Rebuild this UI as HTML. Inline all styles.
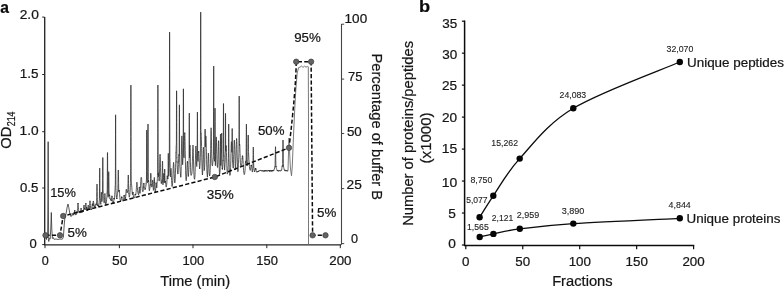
<!DOCTYPE html>
<html lang="en"><head><meta charset="utf-8"><title>Figure</title>
<style>
html,body{margin:0;padding:0;background:#fff;}
body{width:784px;height:290px;overflow:hidden;}
svg{display:block;font-family:'Liberation Sans', sans-serif;}
</style></head><body>
<svg width="784" height="290" viewBox="0 0 784 290">
<rect width="784" height="290" fill="#ffffff"/>
<text transform="translate(0.80,13.10) scale(0.9491,1)" x="-0.49" y="0" font-size="16.5" font-weight="bold" fill="#0a0a0a" stroke="#0a0a0a" stroke-width="0.22">a</text>
<text transform="translate(420.20,11.70) scale(1.1041,1)" x="-1.07" y="0" font-size="16.5" font-weight="bold" fill="#0a0a0a" stroke="#0a0a0a" stroke-width="0.22">b</text>
<path d="M44.7 17.1 V244.8 H341" fill="none" stroke="#262626" stroke-width="1.35"/>
<path d="M42.2 17.1 H44.6" stroke="#262626" stroke-width="1"/>
<path d="M42.2 74.5 H44.6" stroke="#262626" stroke-width="1"/>
<path d="M42.2 131.7 H44.6" stroke="#262626" stroke-width="1"/>
<path d="M42.2 188.0 H44.6" stroke="#262626" stroke-width="1"/>
<path d="M42.2 244.6 H44.6" stroke="#262626" stroke-width="1"/>
<text transform="translate(20.40,18.60) scale(1.0592,1)" x="-0.65" y="0" font-size="13" fill="#161616" stroke="#161616" stroke-width="0.22">2.0</text>
<text transform="translate(20.80,78.00) scale(1.0377,1)" x="-0.97" y="0" font-size="13" fill="#161616" stroke="#161616" stroke-width="0.22">1.5</text>
<text transform="translate(20.60,135.20) scale(1.0558,1)" x="-0.97" y="0" font-size="13" fill="#161616" stroke="#161616" stroke-width="0.22">1.0</text>
<text transform="translate(20.50,191.50) scale(1.0159,1)" x="-0.52" y="0" font-size="13" fill="#161616" stroke="#161616" stroke-width="0.22">0.5</text>
<text transform="translate(30.00,248.00) scale(1.0040,1)" x="-0.52" y="0" font-size="13" fill="#161616" stroke="#161616" stroke-width="0.22">0</text>
<path d="M45.0 244.6 V248.2" stroke="#262626" stroke-width="1"/>
<text transform="translate(42.30,265.00) scale(0.9717,1)" x="-0.52" y="0" font-size="13" fill="#161616" stroke="#161616" stroke-width="0.22">0</text>
<path d="M119.4 244.6 V248.2" stroke="#262626" stroke-width="1"/>
<text transform="translate(112.60,265.00) scale(1.0680,1)" x="-0.52" y="0" font-size="13" fill="#161616" stroke="#161616" stroke-width="0.22">50</text>
<path d="M193.0 244.6 V248.2" stroke="#262626" stroke-width="1"/>
<text transform="translate(183.40,265.00) scale(1.0025,1)" x="-0.97" y="0" font-size="13" fill="#161616" stroke="#161616" stroke-width="0.22">100</text>
<path d="M266.8 244.6 V248.2" stroke="#262626" stroke-width="1"/>
<text transform="translate(257.30,265.00) scale(0.9975,1)" x="-0.97" y="0" font-size="13" fill="#161616" stroke="#161616" stroke-width="0.22">150</text>
<path d="M340.3 244.6 V248.2" stroke="#262626" stroke-width="1"/>
<text transform="translate(329.90,265.00) scale(1.0256,1)" x="-0.65" y="0" font-size="13" fill="#161616" stroke="#161616" stroke-width="0.22">200</text>
<text transform="translate(160.70,286.40) scale(1.0522,1)" x="-0.35" y="0" font-size="14" fill="#161616" stroke="#161616" stroke-width="0.22">Time (min)</text>
<text transform="translate(11.10,148.00) rotate(-90) scale(1.0174,1)" x="-0.65" y="0" font-size="14.5" fill="#161616" stroke="#161616" stroke-width="0.22">OD</text>
<text transform="translate(15.30,125.90) rotate(-90) scale(0.7999,1)" x="-0.56" y="0" font-size="11.2" fill="#161616" stroke="#161616" stroke-width="0.22">214</text>
<path d="M341.5 24 V244.8" fill="none" stroke="#444" stroke-width="1.1"/>
<path d="M341.5 24.2 H344.2" stroke="#444" stroke-width="1"/>
<path d="M341.5 79.1 H344.2" stroke="#444" stroke-width="1"/>
<path d="M341.5 133.5 H344.2" stroke="#444" stroke-width="1"/>
<path d="M341.5 188.6 H344.2" stroke="#444" stroke-width="1"/>
<path d="M341.5 243.6 H344.2" stroke="#444" stroke-width="1"/>
<text transform="translate(345.60,23.30) scale(1.0422,1)" x="-0.97" y="0" font-size="13" fill="#161616" stroke="#161616" stroke-width="0.22">100</text>
<text transform="translate(348.60,80.80) scale(0.9955,1)" x="-0.65" y="0" font-size="13" fill="#161616" stroke="#161616" stroke-width="0.22">75</text>
<text transform="translate(347.40,135.80) scale(1.0306,1)" x="-0.52" y="0" font-size="13" fill="#161616" stroke="#161616" stroke-width="0.22">50</text>
<text transform="translate(347.20,189.20) scale(1.0558,1)" x="-0.65" y="0" font-size="13" fill="#161616" stroke="#161616" stroke-width="0.22">25</text>
<text transform="translate(351.40,243.10) scale(0.9717,1)" x="-0.52" y="0" font-size="13" fill="#161616" stroke="#161616" stroke-width="0.22">0</text>
<text transform="translate(372.00,54.70) rotate(90) scale(0.9795,1)" x="-1.20" y="0" font-size="15" fill="#161616" stroke="#161616" stroke-width="0.22">Percentage of buffer B</text>
<path d="M45.30 235.6 L46.00 236.5 L46.60 239.5 L47.00 236.0 L47.60 238.0 L47.95 200.0 L48.15 141.7 L48.35 205.0 L48.70 241.5 L49.40 238.5 L50.20 239.0 L50.80 228.0 L51.30 212.5 L51.80 229.0 L52.40 238.5 L53.20 237.5 L54.00 239.3 L56.00 239.0 L58.00 239.4 L60.00 239.0 L62.30 239.2 L63.40 237.0 L64.20 225.0 L65.00 216.8 L66.00 214.0 L67.20 207.0 L68.00 204.0 L68.80 207.5 L69.80 213.5 L70.60 215.8 L71.00 216.5 L71.20 215.6 L71.40 215.9 L71.60 216.1 L71.80 215.8 L72.00 215.9 L72.20 215.2 L72.40 214.8 L72.55 214.5 L72.60 214.2 L72.70 214.4 L72.80 214.0 L72.85 213.9 L72.90 213.3 L72.95 213.3 L73.00 213.3 L73.05 213.9 L73.10 214.1 L73.15 214.1 L73.20 213.4 L73.30 213.7 L73.40 214.9 L73.45 214.5 L73.60 215.2 L73.80 214.9 L74.00 214.6 L74.12 214.2 L74.20 213.7 L74.27 213.4 L74.40 211.8 L74.42 212.4 L74.52 211.8 L74.57 210.8 L74.60 210.9 L74.62 211.1 L74.67 210.6 L74.72 210.3 L74.77 210.3 L74.80 210.7 L74.82 210.3 L74.87 211.4 L74.92 211.5 L75.00 212.0 L75.02 212.3 L75.17 213.1 L75.20 213.1 L75.32 213.9 L75.40 214.1 L75.60 214.9 L75.80 214.8 L76.00 214.2 L76.20 214.6 L76.40 214.2 L76.59 213.7 L76.60 213.7 L76.74 212.9 L76.80 213.2 L76.89 212.8 L76.99 212.3 L77.00 212.4 L77.04 212.3 L77.09 211.8 L77.14 212.0 L77.19 211.3 L77.20 211.5 L77.24 211.6 L77.29 211.0 L77.34 210.8 L77.39 210.5 L77.40 210.3 L77.49 208.7 L77.55 208.4 L77.60 207.3 L77.64 206.4 L77.70 205.8 L77.79 204.4 L77.80 204.3 L77.85 203.6 L77.90 203.8 L77.95 203.3 L78.00 203.0 L78.05 203.3 L78.10 203.7 L78.15 203.3 L78.20 204.3 L78.30 205.8 L78.40 206.9 L78.45 207.8 L78.60 209.7 L78.76 211.5 L78.80 211.9 L78.91 212.2 L79.00 212.2 L79.06 212.7 L79.16 212.0 L79.20 211.8 L79.21 212.2 L79.26 211.7 L79.31 212.1 L79.36 211.7 L79.40 211.9 L79.41 211.2 L79.46 211.7 L79.51 212.0 L79.56 211.4 L79.60 212.4 L79.66 211.8 L79.80 212.6 L79.81 212.3 L79.96 212.9 L80.00 213.1 L80.20 212.6 L80.40 213.0 L80.47 212.2 L80.60 211.5 L80.62 211.4 L80.77 210.0 L80.80 209.7 L80.87 209.6 L80.92 209.2 L80.97 208.7 L81.00 209.0 L81.02 208.5 L81.07 208.2 L81.12 208.5 L81.17 208.4 L81.20 208.6 L81.22 209.3 L81.27 209.3 L81.37 210.5 L81.40 210.5 L81.52 210.7 L81.60 212.1 L81.67 212.4 L81.80 211.9 L81.95 212.7 L82.00 212.1 L82.10 211.9 L82.20 212.0 L82.25 211.1 L82.35 211.0 L82.40 211.3 L82.45 211.0 L82.50 210.6 L82.55 211.1 L82.60 211.0 L82.65 210.8 L82.70 210.4 L82.75 211.0 L82.80 211.0 L82.85 210.9 L83.00 211.2 L83.15 211.9 L83.20 211.3 L83.40 210.5 L83.55 209.2 L83.60 208.4 L83.70 207.0 L83.80 206.1 L83.85 205.5 L83.90 205.5 L83.95 205.3 L84.00 205.0 L84.05 205.3 L84.08 205.3 L84.10 205.3 L84.15 205.3 L84.20 206.1 L84.23 206.3 L84.30 206.9 L84.38 207.5 L84.40 207.7 L84.45 208.6 L84.48 208.8 L84.53 208.8 L84.58 208.9 L84.60 209.0 L84.63 208.4 L84.68 208.5 L84.73 209.3 L84.78 209.3 L84.80 209.3 L84.83 208.5 L84.88 208.6 L84.98 209.1 L85.00 209.3 L85.13 209.9 L85.20 209.1 L85.28 208.7 L85.35 207.4 L85.40 206.7 L85.50 205.8 L85.60 204.3 L85.65 203.9 L85.70 203.3 L85.75 203.3 L85.80 203.0 L85.85 203.3 L85.90 203.5 L85.95 204.0 L86.00 203.7 L86.06 204.5 L86.10 205.7 L86.20 206.9 L86.21 207.2 L86.25 207.1 L86.36 208.5 L86.40 208.1 L86.46 208.3 L86.51 207.6 L86.56 207.6 L86.60 207.9 L86.61 207.2 L86.66 207.4 L86.71 207.7 L86.76 208.0 L86.80 207.7 L86.81 207.7 L86.86 207.7 L86.96 209.2 L87.00 208.6 L87.11 209.4 L87.20 210.3 L87.26 210.5 L87.40 211.0 L87.60 210.0 L87.64 210.3 L87.79 208.5 L87.80 208.5 L87.94 207.6 L88.00 206.4 L88.04 206.2 L88.09 206.2 L88.14 205.9 L88.19 205.3 L88.20 205.1 L88.24 205.3 L88.29 205.7 L88.34 205.5 L88.39 205.5 L88.40 206.2 L88.44 206.4 L88.54 207.6 L88.60 208.2 L88.69 209.0 L88.80 209.4 L88.84 210.0 L89.00 210.0 L89.20 209.6 L89.27 209.2 L89.40 208.5 L89.42 208.2 L89.55 205.6 L89.57 205.4 L89.60 204.8 L89.67 203.6 L89.70 203.1 L89.72 202.7 L89.77 201.7 L89.80 201.6 L89.82 201.6 L89.85 201.1 L89.87 201.1 L89.90 201.1 L89.92 201.1 L89.95 201.1 L89.97 201.1 L90.00 200.8 L90.02 201.1 L90.05 201.1 L90.07 201.1 L90.10 201.1 L90.15 201.6 L90.17 201.5 L90.20 202.1 L90.30 202.9 L90.32 203.7 L90.40 205.4 L90.45 205.5 L90.47 205.8 L90.60 208.1 L90.80 209.8 L91.00 209.4 L91.20 210.0 L91.40 209.4 L91.60 209.7 L91.80 208.6 L91.81 208.1 L91.96 206.9 L92.00 207.0 L92.11 205.7 L92.20 205.1 L92.21 204.6 L92.26 204.2 L92.31 204.5 L92.36 204.0 L92.40 203.7 L92.41 203.8 L92.46 203.9 L92.51 204.0 L92.56 204.5 L92.60 204.2 L92.61 204.6 L92.70 205.1 L92.71 205.4 L92.80 206.0 L92.85 205.4 L92.86 205.4 L93.00 203.5 L93.01 203.0 L93.10 201.7 L93.15 201.3 L93.20 201.3 L93.25 201.3 L93.30 201.0 L93.33 201.3 L93.35 201.3 L93.40 201.3 L93.45 201.3 L93.48 201.3 L93.50 201.3 L93.60 202.3 L93.63 202.5 L93.73 204.5 L93.75 203.8 L93.78 204.4 L93.80 204.4 L93.83 205.3 L93.88 205.8 L93.90 205.4 L93.93 205.5 L93.98 205.9 L94.00 206.0 L94.03 206.4 L94.08 205.6 L94.13 205.7 L94.20 205.9 L94.23 206.0 L94.38 206.4 L94.40 206.9 L94.53 206.9 L94.60 206.6 L94.80 206.6 L95.00 206.6 L95.20 206.3 L95.40 206.7 L95.58 205.8 L95.60 206.0 L95.73 205.8 L95.80 205.1 L95.88 204.6 L95.98 204.9 L96.00 204.8 L96.03 204.2 L96.08 204.3 L96.13 204.6 L96.18 204.1 L96.20 203.9 L96.23 203.7 L96.28 204.5 L96.33 204.2 L96.38 203.5 L96.39 203.6 L96.40 203.6 L96.48 202.9 L96.54 203.2 L96.55 202.8 L96.60 201.8 L96.63 200.4 L96.69 197.8 L96.70 197.1 L96.78 192.4 L96.79 191.7 L96.80 190.9 L96.84 187.9 L96.85 187.3 L96.89 185.3 L96.90 184.8 L96.94 184.3 L96.95 184.3 L96.99 184.3 L97.00 184.0 L97.04 184.3 L97.05 184.3 L97.09 184.4 L97.10 185.4 L97.14 186.8 L97.15 188.2 L97.19 190.7 L97.20 191.4 L97.29 196.6 L97.30 197.4 L97.33 199.5 L97.40 202.2 L97.44 203.2 L97.45 203.3 L97.48 204.0 L97.59 204.3 L97.60 204.7 L97.63 204.3 L97.73 205.2 L97.78 205.1 L97.80 205.6 L97.83 204.9 L97.88 205.5 L97.93 204.9 L97.98 205.3 L98.00 205.3 L98.03 205.0 L98.08 205.9 L98.13 205.6 L98.20 205.9 L98.23 205.8 L98.38 206.7 L98.40 207.0 L98.53 207.0 L98.60 206.4 L98.80 205.7 L99.00 203.6 L99.01 203.8 L99.10 203.0 L99.16 202.9 L99.20 202.3 L99.23 201.8 L99.25 201.0 L99.31 200.5 L99.38 199.7 L99.40 198.9 L99.41 198.4 L99.46 193.0 L99.50 187.2 L99.51 186.7 L99.53 183.5 L99.55 179.9 L99.56 178.8 L99.60 172.9 L99.61 171.8 L99.63 169.7 L99.65 168.3 L99.66 168.3 L99.68 168.3 L99.70 168.0 L99.71 168.0 L99.73 168.3 L99.75 168.3 L99.76 168.6 L99.78 171.1 L99.80 173.1 L99.81 174.6 L99.83 177.0 L99.85 180.5 L99.88 184.2 L99.90 187.2 L99.91 188.5 L99.93 191.8 L99.98 197.4 L100.00 197.3 L100.03 198.0 L100.06 198.8 L100.13 199.3 L100.15 199.0 L100.20 199.6 L100.21 199.6 L100.28 200.1 L100.30 200.6 L100.40 201.1 L100.43 202.2 L100.60 203.1 L100.74 204.0 L100.80 204.4 L100.89 202.8 L101.00 199.9 L101.04 198.2 L101.14 195.0 L101.19 193.7 L101.20 193.1 L101.24 192.6 L101.29 192.2 L101.34 192.2 L101.39 192.2 L101.40 192.1 L101.44 192.6 L101.49 193.0 L101.54 194.5 L101.60 196.3 L101.64 197.8 L101.79 201.2 L101.80 201.7 L101.94 201.4 L102.00 201.2 L102.20 199.0 L102.35 196.9 L102.40 195.7 L102.46 195.2 L102.50 194.4 L102.60 180.6 L102.61 178.6 L102.65 171.1 L102.70 161.8 L102.75 157.8 L102.76 157.8 L102.80 157.5 L102.85 157.8 L102.86 157.8 L102.90 161.0 L102.91 163.3 L102.95 170.0 L102.96 171.5 L103.00 178.6 L103.01 180.4 L103.06 188.4 L103.10 192.1 L103.11 191.9 L103.16 193.4 L103.20 193.4 L103.21 193.7 L103.25 193.9 L103.26 194.9 L103.36 195.2 L103.40 196.5 L103.51 197.5 L103.60 198.5 L103.66 199.2 L103.80 200.2 L104.00 202.3 L104.20 203.1 L104.31 202.0 L104.40 200.7 L104.46 199.3 L104.60 197.5 L104.61 196.8 L104.71 195.7 L104.76 194.4 L104.80 194.4 L104.81 194.5 L104.86 193.6 L104.91 193.9 L104.96 193.7 L105.00 193.9 L105.01 194.2 L105.06 195.6 L105.11 196.3 L105.20 197.7 L105.21 197.6 L105.36 200.9 L105.40 201.7 L105.51 203.0 L105.60 204.1 L105.80 205.3 L106.00 204.1 L106.20 203.4 L106.40 202.2 L106.60 199.8 L106.78 197.8 L106.80 197.8 L106.81 197.2 L106.90 196.4 L106.93 195.7 L106.96 195.7 L107.00 194.9 L107.05 194.5 L107.08 193.5 L107.11 193.7 L107.18 191.8 L107.20 192.2 L107.21 191.6 L107.23 189.6 L107.26 185.1 L107.28 181.8 L107.30 178.2 L107.31 176.3 L107.33 172.4 L107.35 168.1 L107.36 166.6 L107.38 162.5 L107.40 159.0 L107.41 156.9 L107.43 154.0 L107.45 152.8 L107.46 152.8 L107.48 152.8 L107.50 152.5 L107.51 152.8 L107.53 152.8 L107.55 152.8 L107.56 152.8 L107.58 155.6 L107.60 159.0 L107.61 160.6 L107.65 168.1 L107.68 174.3 L107.70 177.7 L107.71 179.9 L107.80 192.3 L107.83 193.1 L107.86 194.0 L107.95 195.4 L107.98 195.7 L108.00 195.6 L108.01 196.3 L108.10 197.0 L108.14 197.0 L108.20 197.3 L108.25 196.9 L108.29 196.2 L108.40 188.8 L108.44 186.1 L108.50 180.7 L108.54 176.8 L108.55 176.1 L108.59 172.6 L108.60 172.3 L108.64 172.0 L108.65 172.0 L108.69 172.0 L108.70 171.7 L108.74 172.0 L108.75 172.0 L108.79 172.0 L108.80 172.0 L108.84 174.8 L108.85 174.7 L108.88 177.4 L108.89 178.3 L108.90 179.2 L108.94 182.5 L109.00 188.4 L109.03 190.5 L109.04 190.8 L109.15 194.6 L109.18 195.1 L109.19 194.6 L109.20 194.6 L109.28 195.8 L109.30 195.3 L109.33 195.6 L109.34 196.1 L109.38 196.1 L109.40 195.4 L109.43 195.0 L109.48 194.9 L109.53 195.6 L109.58 195.8 L109.60 195.2 L109.63 196.0 L109.68 195.9 L109.78 197.1 L109.80 197.0 L109.93 198.7 L110.00 199.0 L110.08 198.5 L110.20 199.2 L110.40 199.1 L110.60 200.1 L110.80 199.6 L111.00 200.0 L111.20 200.9 L111.37 200.3 L111.40 200.8 L111.52 200.1 L111.60 199.2 L111.67 197.8 L111.77 197.3 L111.80 197.2 L111.82 196.6 L111.87 195.8 L111.92 195.8 L111.97 195.9 L112.00 196.4 L112.02 196.0 L112.07 196.3 L112.12 196.9 L112.17 198.0 L112.20 198.5 L112.27 199.1 L112.40 201.2 L112.42 201.6 L112.57 202.6 L112.60 202.4 L112.80 203.1 L113.00 203.9 L113.20 203.6 L113.40 202.8 L113.53 202.7 L113.60 201.7 L113.68 202.0 L113.80 200.4 L113.83 200.2 L113.93 199.3 L113.98 198.5 L114.00 198.9 L114.03 198.4 L114.08 198.2 L114.13 198.6 L114.18 197.9 L114.20 198.1 L114.23 198.7 L114.28 198.3 L114.33 198.6 L114.40 199.3 L114.43 199.1 L114.58 198.1 L114.60 197.9 L114.73 194.9 L114.80 194.1 L114.88 192.9 L115.00 190.3 L115.03 190.3 L115.15 187.7 L115.18 186.9 L115.20 187.0 L115.28 185.6 L115.30 184.8 L115.33 184.2 L115.38 179.5 L115.40 173.3 L115.43 162.7 L115.45 155.2 L115.48 142.8 L115.50 134.6 L115.53 124.3 L115.55 117.9 L115.58 115.1 L115.60 114.8 L115.63 115.1 L115.65 118.0 L115.68 127.1 L115.70 134.8 L115.75 155.2 L115.78 166.7 L115.80 173.0 L115.90 187.8 L115.93 188.4 L116.00 190.4 L116.05 191.2 L116.08 191.3 L116.13 192.7 L116.20 194.0 L116.28 195.0 L116.40 196.8 L116.43 196.5 L116.53 197.4 L116.58 197.6 L116.60 198.2 L116.63 198.3 L116.68 198.6 L116.73 198.3 L116.78 198.7 L116.80 198.0 L116.83 198.7 L116.88 198.3 L116.93 198.3 L117.00 198.4 L117.03 197.6 L117.18 196.5 L117.20 196.5 L117.33 195.1 L117.40 194.8 L117.58 193.4 L117.60 193.2 L117.70 192.0 L117.73 192.0 L117.80 190.8 L117.85 190.9 L117.88 189.9 L117.98 184.8 L118.00 183.1 L118.03 181.1 L118.08 176.8 L118.10 175.0 L118.13 171.6 L118.15 170.3 L118.18 170.3 L118.20 170.3 L118.23 170.3 L118.25 170.3 L118.28 170.3 L118.30 170.0 L118.33 170.3 L118.35 170.3 L118.38 170.3 L118.40 170.3 L118.45 170.3 L118.48 172.3 L118.50 174.7 L118.60 182.6 L118.61 183.6 L118.63 185.0 L118.75 190.7 L118.76 190.5 L118.78 190.7 L118.80 191.8 L118.90 191.4 L118.91 191.3 L119.00 190.4 L119.01 190.4 L119.06 190.5 L119.11 190.1 L119.16 190.3 L119.20 190.9 L119.21 190.3 L119.26 190.5 L119.31 191.5 L119.36 191.5 L119.40 191.3 L119.41 191.8 L119.51 193.2 L119.60 193.8 L119.66 194.9 L119.80 197.0 L119.81 197.3 L120.00 198.9 L120.20 200.3 L120.40 200.5 L120.60 200.7 L120.80 201.0 L121.00 200.0 L121.11 199.9 L121.20 198.8 L121.26 198.6 L121.40 197.6 L121.41 198.0 L121.51 197.1 L121.56 196.9 L121.60 196.8 L121.61 197.1 L121.66 196.8 L121.71 196.9 L121.76 197.5 L121.80 197.2 L121.81 197.4 L121.86 196.9 L121.91 197.2 L122.00 197.3 L122.01 198.0 L122.16 198.5 L122.20 198.7 L122.31 199.0 L122.40 199.6 L122.60 200.3 L122.80 200.7 L123.00 201.2 L123.20 200.7 L123.40 199.6 L123.56 198.8 L123.60 198.3 L123.71 198.3 L123.80 197.1 L123.86 197.1 L123.96 196.5 L124.00 196.5 L124.01 195.5 L124.06 195.7 L124.11 195.6 L124.16 195.3 L124.20 196.1 L124.21 195.5 L124.26 196.1 L124.31 195.9 L124.36 195.7 L124.40 196.2 L124.46 196.4 L124.60 197.1 L124.61 197.3 L124.76 198.6 L124.80 198.2 L125.00 199.2 L125.20 199.5 L125.40 198.9 L125.60 197.0 L125.64 197.2 L125.79 194.8 L125.80 195.2 L125.94 193.1 L126.00 191.7 L126.04 191.3 L126.09 190.8 L126.14 190.7 L126.19 190.0 L126.20 189.9 L126.24 190.2 L126.29 189.3 L126.34 189.3 L126.39 189.4 L126.40 189.3 L126.44 189.3 L126.54 189.7 L126.60 190.7 L126.69 191.2 L126.80 192.1 L126.84 192.5 L127.00 192.3 L127.20 192.8 L127.40 192.4 L127.60 191.0 L127.70 191.0 L127.76 190.7 L127.77 190.9 L127.80 190.6 L127.85 189.6 L127.91 188.3 L127.92 187.3 L128.00 183.7 L128.06 180.0 L128.07 179.0 L128.10 177.4 L128.15 175.3 L128.16 175.3 L128.17 175.3 L128.20 175.3 L128.21 175.3 L128.22 175.3 L128.25 175.3 L128.26 175.3 L128.27 175.3 L128.30 175.0 L128.31 175.0 L128.32 175.3 L128.35 175.3 L128.36 175.3 L128.37 175.3 L128.40 175.3 L128.41 175.3 L128.42 175.3 L128.45 175.4 L128.46 176.1 L128.47 176.4 L128.50 178.9 L128.51 179.3 L128.52 180.4 L128.56 183.4 L128.57 183.9 L128.60 185.8 L128.66 189.2 L128.67 189.5 L128.75 192.3 L128.80 193.5 L128.81 193.3 L128.82 193.1 L128.90 194.4 L128.96 194.5 L128.97 194.9 L129.00 195.3 L129.20 197.2 L129.40 196.8 L129.60 196.1 L129.80 194.8 L130.00 192.3 L130.20 189.2 L130.23 188.8 L130.30 187.4 L130.38 186.1 L130.40 185.6 L130.44 185.5 L130.45 185.4 L130.53 183.4 L130.59 182.3 L130.60 181.1 L130.63 180.0 L130.68 168.1 L130.70 160.2 L130.73 146.6 L130.74 142.3 L130.75 136.3 L130.78 120.5 L130.80 110.1 L130.83 96.7 L130.84 92.4 L130.85 88.8 L130.88 85.3 L130.89 85.3 L130.90 85.0 L130.93 85.3 L130.94 86.6 L130.95 89.3 L130.98 100.9 L130.99 105.5 L131.00 110.6 L131.03 126.4 L131.04 131.1 L131.05 136.4 L131.09 156.3 L131.10 160.0 L131.13 171.5 L131.14 174.6 L131.19 179.0 L131.20 179.5 L131.24 180.3 L131.28 180.3 L131.34 181.5 L131.35 181.5 L131.40 182.2 L131.43 182.4 L131.49 183.0 L131.50 183.6 L131.60 184.8 L131.64 185.1 L131.80 187.5 L132.00 190.4 L132.20 192.7 L132.33 194.3 L132.40 194.4 L132.48 194.9 L132.60 194.6 L132.63 194.3 L132.73 193.8 L132.78 192.8 L132.80 193.0 L132.83 193.1 L132.88 192.6 L132.93 192.2 L132.98 193.0 L133.00 193.1 L133.03 192.4 L133.08 193.0 L133.13 193.7 L133.20 194.8 L133.23 194.7 L133.38 196.6 L133.40 196.3 L133.53 197.6 L133.60 197.4 L133.80 197.7 L134.00 198.1 L134.20 198.1 L134.40 197.8 L134.60 197.1 L134.63 196.9 L134.78 196.6 L134.80 196.5 L134.93 196.1 L135.00 195.7 L135.03 194.9 L135.08 195.0 L135.13 195.1 L135.18 194.5 L135.20 194.4 L135.23 194.1 L135.28 194.6 L135.33 194.8 L135.38 194.8 L135.40 194.0 L135.43 194.5 L135.53 194.1 L135.60 194.3 L135.68 194.0 L135.80 194.4 L135.83 194.4 L136.00 192.6 L136.20 191.4 L136.30 189.6 L136.40 188.0 L136.45 187.5 L136.60 185.5 L136.70 184.4 L136.75 183.0 L136.80 182.8 L136.85 182.2 L136.90 182.6 L136.95 182.5 L137.00 182.6 L137.05 182.9 L137.10 183.8 L137.20 185.0 L137.35 186.6 L137.40 187.5 L137.50 189.0 L137.60 190.4 L137.80 192.3 L138.00 192.9 L138.20 194.0 L138.40 194.5 L138.60 194.9 L138.80 193.5 L138.81 193.5 L138.96 191.8 L139.00 192.1 L139.11 189.8 L139.20 188.7 L139.21 188.2 L139.26 187.9 L139.31 187.1 L139.36 187.4 L139.40 186.9 L139.41 187.4 L139.46 187.2 L139.51 187.4 L139.56 188.2 L139.60 188.5 L139.61 188.5 L139.71 189.8 L139.80 191.2 L139.86 192.9 L140.00 193.3 L140.01 193.0 L140.20 191.2 L140.40 188.4 L140.60 185.2 L140.75 181.5 L140.80 181.2 L140.90 179.2 L141.00 177.8 L141.02 177.9 L141.05 177.8 L141.10 177.8 L141.15 177.8 L141.17 177.8 L141.20 177.5 L141.25 177.8 L141.30 177.8 L141.32 177.8 L141.35 177.8 L141.40 177.8 L141.42 177.8 L141.47 177.8 L141.50 177.8 L141.52 177.8 L141.57 178.2 L141.60 178.6 L141.62 178.9 L141.65 179.6 L141.67 180.3 L141.72 180.7 L141.77 181.8 L141.80 181.9 L141.82 182.4 L141.92 184.9 L142.00 185.3 L142.07 187.0 L142.20 189.0 L142.22 189.2 L142.40 190.7 L142.60 191.3 L142.80 191.8 L143.00 191.4 L143.20 190.0 L143.21 190.1 L143.36 187.6 L143.40 187.9 L143.51 185.9 L143.60 185.1 L143.61 184.5 L143.66 184.6 L143.71 183.3 L143.76 183.6 L143.80 183.1 L143.81 183.2 L143.86 183.2 L143.91 183.6 L143.96 184.0 L144.00 183.8 L144.01 184.1 L144.11 184.8 L144.20 185.6 L144.26 186.8 L144.40 187.4 L144.41 187.3 L144.60 188.5 L144.80 189.4 L145.00 189.0 L145.20 189.5 L145.40 188.9 L145.41 189.0 L145.56 187.9 L145.60 187.6 L145.71 186.9 L145.80 186.4 L145.81 186.4 L145.86 185.5 L145.91 185.6 L145.96 185.0 L146.00 184.5 L146.01 184.6 L146.06 184.5 L146.11 183.2 L146.15 183.5 L146.16 182.8 L146.20 182.8 L146.21 182.0 L146.30 182.0 L146.31 181.3 L146.35 181.4 L146.40 180.1 L146.45 179.4 L146.46 179.5 L146.50 178.0 L146.55 170.8 L146.60 157.8 L146.61 155.1 L146.65 142.7 L146.70 130.7 L146.75 130.0 L146.80 131.5 L146.85 142.6 L146.90 158.0 L146.95 171.1 L147.00 178.2 L147.05 178.9 L147.10 180.1 L147.20 181.4 L147.25 181.9 L147.30 182.2 L147.35 182.6 L147.40 182.9 L147.45 181.7 L147.55 180.8 L147.60 179.8 L147.70 177.7 L147.75 176.5 L147.80 169.0 L147.85 154.3 L147.90 137.9 L147.91 135.3 L147.95 125.3 L148.00 124.0 L148.05 124.6 L148.06 127.3 L148.10 138.0 L148.15 154.2 L148.20 168.7 L148.21 171.5 L148.30 179.5 L148.31 180.1 L148.35 181.6 L148.36 181.4 L148.40 180.8 L148.41 181.2 L148.45 181.3 L148.46 180.7 L148.50 181.2 L148.51 180.4 L148.56 181.5 L148.60 181.2 L148.61 181.0 L148.66 182.2 L148.71 182.6 L148.80 184.3 L148.81 184.3 L148.96 186.8 L149.00 187.1 L149.11 189.1 L149.20 189.0 L149.40 190.7 L149.60 189.9 L149.69 188.9 L149.80 188.6 L149.84 188.0 L149.99 186.9 L150.00 187.1 L150.09 185.8 L150.14 185.6 L150.19 185.6 L150.20 185.0 L150.21 185.4 L150.24 185.5 L150.29 184.9 L150.34 184.4 L150.35 184.9 L150.36 184.8 L150.39 184.1 L150.40 183.5 L150.44 182.3 L150.49 179.9 L150.50 178.8 L150.51 178.4 L150.59 173.7 L150.60 173.6 L150.61 173.6 L150.65 173.6 L150.66 173.6 L150.70 173.6 L150.71 173.6 L150.74 173.6 L150.75 173.6 L150.76 173.6 L150.80 173.3 L150.81 173.3 L150.85 173.6 L150.86 173.6 L150.89 173.6 L150.90 173.6 L150.91 173.6 L150.95 173.6 L150.96 173.6 L151.00 173.6 L151.01 173.6 L151.10 178.4 L151.11 178.9 L151.20 182.9 L151.25 183.4 L151.26 183.9 L151.40 185.0 L151.41 184.6 L151.60 185.6 L151.80 187.1 L152.00 187.0 L152.11 186.1 L152.20 185.2 L152.26 185.3 L152.40 182.9 L152.41 182.5 L152.51 181.0 L152.56 181.2 L152.60 180.6 L152.61 180.6 L152.66 180.0 L152.71 180.0 L152.76 180.3 L152.80 180.4 L152.81 181.0 L152.86 181.4 L152.91 182.6 L153.00 183.9 L153.01 184.2 L153.16 187.1 L153.20 188.2 L153.31 189.1 L153.40 190.4 L153.60 190.0 L153.71 189.3 L153.80 187.5 L153.86 186.8 L154.00 182.6 L154.01 182.9 L154.11 180.1 L154.16 178.8 L154.20 178.6 L154.21 177.9 L154.26 177.7 L154.31 177.4 L154.36 177.5 L154.40 177.5 L154.41 178.0 L154.46 178.7 L154.51 180.0 L154.60 182.9 L154.61 182.5 L154.76 187.0 L154.80 187.9 L154.91 189.5 L155.00 190.7 L155.20 191.5 L155.40 192.1 L155.60 190.2 L155.61 190.2 L155.76 188.3 L155.80 188.2 L155.91 186.4 L156.00 184.8 L156.01 184.6 L156.06 183.5 L156.11 183.8 L156.16 182.7 L156.20 182.9 L156.21 182.9 L156.26 183.3 L156.31 183.5 L156.36 183.6 L156.40 184.6 L156.41 184.8 L156.51 185.3 L156.60 187.2 L156.66 187.9 L156.80 187.7 L156.81 187.7 L157.00 184.9 L157.20 181.5 L157.21 181.2 L157.30 179.8 L157.36 178.5 L157.40 177.8 L157.45 176.2 L157.51 175.5 L157.60 173.0 L157.61 172.7 L157.66 169.2 L157.70 154.9 L157.71 151.3 L157.75 132.9 L157.76 128.3 L157.80 108.1 L157.81 104.3 L157.85 88.3 L157.86 85.7 L157.90 85.0 L157.91 85.0 L157.95 88.5 L157.96 91.0 L158.00 107.5 L158.01 112.7 L158.05 132.3 L158.10 154.4 L158.11 157.6 L158.16 172.1 L158.20 173.5 L158.26 174.9 L158.31 175.1 L158.35 175.9 L158.40 176.1 L158.41 176.7 L158.46 175.6 L158.50 174.7 L158.51 173.7 L158.56 173.3 L158.60 173.2 L158.61 173.1 L158.66 172.7 L158.71 173.8 L158.76 174.0 L158.80 174.9 L158.81 174.8 L158.91 177.4 L159.00 179.0 L159.06 180.0 L159.20 181.1 L159.21 180.7 L159.40 176.3 L159.45 174.1 L159.60 168.2 L159.75 161.3 L159.80 159.5 L159.85 158.0 L159.90 156.7 L159.95 155.5 L160.00 155.2 L160.05 154.2 L160.10 155.1 L160.15 155.0 L160.20 156.7 L160.25 157.6 L160.35 161.0 L160.40 163.2 L160.50 167.7 L160.60 171.9 L160.65 173.2 L160.80 177.4 L161.00 181.4 L161.20 183.6 L161.40 183.7 L161.54 183.5 L161.60 182.9 L161.69 183.0 L161.76 182.2 L161.80 182.1 L161.84 182.1 L161.90 182.5 L161.91 182.1 L161.94 182.2 L161.99 181.1 L162.00 181.4 L162.04 180.8 L162.05 180.9 L162.06 180.6 L162.09 181.2 L162.14 178.8 L162.16 177.8 L162.19 176.1 L162.20 175.6 L162.21 175.0 L162.24 172.4 L162.26 170.9 L162.29 168.9 L162.30 167.7 L162.31 166.8 L162.34 165.0 L162.35 163.9 L162.36 163.3 L162.40 161.3 L162.41 161.3 L162.44 161.3 L162.45 161.3 L162.46 161.3 L162.50 161.0 L162.51 161.0 L162.55 161.3 L162.56 161.3 L162.59 161.3 L162.60 161.7 L162.65 164.8 L162.66 165.4 L162.70 168.9 L162.74 172.1 L162.80 177.0 L162.81 177.4 L162.95 184.8 L162.96 184.7 L163.00 184.3 L163.10 183.3 L163.20 182.0 L163.25 179.9 L163.40 177.3 L163.50 175.8 L163.55 174.5 L163.60 174.2 L163.65 173.6 L163.70 173.4 L163.75 173.8 L163.80 174.1 L163.85 174.4 L163.90 175.2 L164.00 177.0 L164.08 178.9 L164.10 178.7 L164.15 179.7 L164.20 180.9 L164.23 181.5 L164.25 182.3 L164.30 182.7 L164.38 181.6 L164.40 180.2 L164.48 175.8 L164.50 175.1 L164.53 172.8 L164.55 172.7 L164.58 171.1 L164.60 169.8 L164.63 169.3 L164.65 169.3 L164.68 169.3 L164.70 169.0 L164.73 169.3 L164.75 169.3 L164.78 169.3 L164.80 170.0 L164.83 171.1 L164.85 172.5 L164.88 173.7 L164.90 174.2 L164.93 176.8 L164.98 179.3 L165.00 180.1 L165.08 182.3 L165.13 182.8 L165.15 182.4 L165.18 182.4 L165.20 182.6 L165.23 182.4 L165.28 181.3 L165.30 182.0 L165.33 181.5 L165.38 181.8 L165.40 181.4 L165.43 181.6 L165.48 181.7 L165.53 181.7 L165.58 182.2 L165.60 182.8 L165.68 182.9 L165.80 184.2 L165.83 185.3 L165.98 186.5 L166.00 186.5 L166.20 187.1 L166.40 186.7 L166.60 185.3 L166.72 184.4 L166.80 182.8 L166.87 182.1 L167.00 179.2 L167.02 179.1 L167.12 177.8 L167.17 177.5 L167.20 176.5 L167.22 177.1 L167.27 176.3 L167.32 175.7 L167.37 176.0 L167.40 176.0 L167.42 176.3 L167.47 176.7 L167.52 176.6 L167.60 177.4 L167.62 177.3 L167.70 178.5 L167.71 178.0 L167.77 179.1 L167.80 178.3 L167.85 178.4 L167.86 177.9 L167.92 177.5 L168.00 176.3 L168.01 176.3 L168.10 167.3 L168.11 165.9 L168.15 160.4 L168.16 159.3 L168.20 154.6 L168.21 153.6 L168.25 153.6 L168.26 153.6 L168.30 153.3 L168.31 153.3 L168.35 153.6 L168.36 153.6 L168.40 153.7 L168.41 155.4 L168.45 160.3 L168.46 161.3 L168.50 166.3 L168.51 168.3 L168.60 175.8 L168.61 176.3 L168.75 175.7 L168.76 175.8 L168.80 175.2 L168.90 174.1 L168.91 173.9 L169.00 172.1 L169.15 169.8 L169.20 168.6 L169.27 167.4 L169.30 165.7 L169.40 133.1 L169.42 121.5 L169.45 100.2 L169.50 64.7 L169.55 35.5 L169.57 32.3 L169.60 32.0 L169.65 34.7 L169.67 45.4 L169.70 64.1 L169.72 78.3 L169.75 99.3 L169.77 113.8 L169.80 131.8 L169.82 142.4 L169.87 157.6 L169.90 158.9 L169.92 159.1 L169.97 161.3 L170.00 162.0 L170.02 162.9 L170.05 163.8 L170.07 164.3 L170.17 167.7 L170.20 169.5 L170.32 174.0 L170.40 175.7 L170.47 176.8 L170.55 175.2 L170.60 173.7 L170.70 171.6 L170.80 169.6 L170.85 169.4 L170.90 168.7 L170.95 168.4 L171.00 168.3 L171.05 168.4 L171.10 169.2 L171.15 169.7 L171.20 170.5 L171.30 172.7 L171.40 175.6 L171.45 177.3 L171.60 180.3 L171.80 184.6 L172.00 186.6 L172.20 186.5 L172.40 185.3 L172.60 183.2 L172.80 179.2 L172.98 174.7 L173.00 174.4 L173.13 170.6 L173.20 168.2 L173.28 166.0 L173.38 164.8 L173.40 163.9 L173.43 163.9 L173.48 162.8 L173.53 162.7 L173.58 162.4 L173.60 162.8 L173.63 163.0 L173.68 162.9 L173.73 163.4 L173.78 163.9 L173.80 164.1 L173.88 166.3 L174.00 168.2 L174.03 169.8 L174.18 173.4 L174.20 173.4 L174.40 178.7 L174.60 180.9 L174.80 182.9 L175.00 181.5 L175.20 179.3 L175.40 173.8 L175.60 167.6 L175.68 163.7 L175.80 159.5 L175.83 157.7 L175.98 152.1 L175.99 152.3 L176.00 152.4 L176.08 149.8 L176.13 148.7 L176.14 148.4 L176.15 148.0 L176.18 146.9 L176.20 147.0 L176.23 146.1 L176.28 145.6 L176.29 145.2 L176.30 145.1 L176.33 144.1 L176.38 142.9 L176.39 142.2 L176.40 141.8 L176.43 130.6 L176.44 126.9 L176.45 122.6 L176.48 109.7 L176.49 104.9 L176.50 100.2 L176.54 91.0 L176.55 91.0 L176.58 91.0 L176.59 90.8 L176.60 90.8 L176.64 91.0 L176.65 91.0 L176.69 96.9 L176.70 101.1 L176.73 113.4 L176.74 118.3 L176.75 122.8 L176.79 139.3 L176.80 142.8 L176.88 156.6 L176.89 157.5 L176.90 157.1 L177.00 161.0 L177.04 162.3 L177.05 161.6 L177.19 164.8 L177.20 165.7 L177.40 169.8 L177.60 172.0 L177.80 174.1 L178.00 173.8 L178.20 170.0 L178.30 167.3 L178.40 164.5 L178.45 163.1 L178.60 158.8 L178.70 155.7 L178.75 154.9 L178.80 155.0 L178.85 154.9 L178.90 154.7 L178.95 154.5 L179.00 154.8 L179.05 155.5 L179.10 155.7 L179.20 152.2 L179.25 135.4 L179.30 117.5 L179.35 105.1 L179.40 104.8 L179.45 105.1 L179.50 118.7 L179.55 137.3 L179.60 154.9 L179.65 162.4 L179.70 163.8 L179.75 164.9 L179.80 165.9 L179.85 166.8 L180.00 168.2 L180.15 170.2 L180.20 171.3 L180.40 173.6 L180.60 176.1 L180.80 177.3 L181.00 175.5 L181.20 166.5 L181.23 165.0 L181.38 156.1 L181.40 154.8 L181.53 147.1 L181.60 143.2 L181.63 141.9 L181.68 139.5 L181.73 137.4 L181.78 137.0 L181.80 136.2 L181.83 135.9 L181.88 136.1 L181.93 137.2 L181.98 137.7 L182.00 138.3 L182.03 139.8 L182.13 144.1 L182.20 147.1 L182.28 151.0 L182.40 157.7 L182.43 159.0 L182.60 164.7 L182.80 162.3 L182.90 160.1 L182.95 159.1 L183.00 158.5 L183.05 157.6 L183.10 156.0 L183.20 140.7 L183.25 120.0 L183.30 98.4 L183.35 89.0 L183.40 88.8 L183.45 89.0 L183.50 97.9 L183.55 119.8 L183.60 140.3 L183.65 152.4 L183.70 153.9 L183.80 155.0 L183.85 156.2 L183.95 156.6 L184.00 157.8 L184.10 155.2 L184.16 151.9 L184.20 150.0 L184.31 145.4 L184.40 141.5 L184.46 138.9 L184.56 135.8 L184.60 134.3 L184.61 134.0 L184.66 132.9 L184.71 132.7 L184.76 133.4 L184.80 132.9 L184.81 133.2 L184.86 134.3 L184.91 135.4 L184.96 137.4 L185.00 138.9 L185.06 141.7 L185.20 149.9 L185.21 150.5 L185.36 159.2 L185.40 161.6 L185.60 170.7 L185.80 177.1 L186.00 179.5 L186.20 180.7 L186.40 179.3 L186.60 176.8 L186.79 173.1 L186.80 173.0 L186.94 168.9 L187.00 167.0 L187.09 164.9 L187.19 163.2 L187.20 162.7 L187.24 162.6 L187.29 162.2 L187.34 161.3 L187.39 161.3 L187.40 161.5 L187.44 161.2 L187.49 161.3 L187.54 162.5 L187.59 163.2 L187.60 162.4 L187.69 164.9 L187.80 167.1 L187.84 167.8 L187.99 171.6 L188.00 171.9 L188.20 176.5 L188.40 176.4 L188.60 173.1 L188.64 172.6 L188.70 172.2 L188.79 170.3 L188.80 170.2 L188.85 169.2 L188.94 167.2 L189.00 165.6 L189.04 164.7 L189.09 158.9 L189.10 156.6 L189.14 145.4 L189.15 142.0 L189.19 129.0 L189.20 125.9 L189.24 114.6 L189.25 113.3 L189.29 113.3 L189.30 113.0 L189.34 113.3 L189.35 113.3 L189.39 121.5 L189.40 124.3 L189.44 137.4 L189.45 139.9 L189.50 154.6 L189.54 157.7 L189.60 155.8 L189.65 153.0 L189.69 151.6 L189.75 149.7 L189.80 147.3 L189.84 146.1 L189.85 146.4 L189.90 145.2 L189.95 145.3 L190.00 145.1 L190.05 146.7 L190.10 147.4 L190.15 148.9 L190.20 151.6 L190.25 153.6 L190.40 161.2 L190.55 167.7 L190.60 169.8 L190.80 173.9 L191.00 175.3 L191.20 175.0 L191.40 175.1 L191.60 174.3 L191.80 173.6 L192.00 171.8 L192.20 168.0 L192.40 161.7 L192.41 161.7 L192.56 156.1 L192.60 154.7 L192.71 151.1 L192.80 147.8 L192.81 147.7 L192.86 146.3 L192.91 146.2 L192.96 145.3 L193.00 145.8 L193.01 145.8 L193.06 145.5 L193.11 146.8 L193.16 147.4 L193.20 148.4 L193.21 148.8 L193.31 152.5 L193.40 155.7 L193.46 158.3 L193.60 164.0 L193.61 165.0 L193.80 171.3 L194.00 175.6 L194.20 177.8 L194.40 178.9 L194.60 179.3 L194.80 177.8 L195.00 174.8 L195.20 169.0 L195.29 165.4 L195.40 161.1 L195.44 159.3 L195.59 153.4 L195.60 153.0 L195.69 149.5 L195.74 148.8 L195.79 147.3 L195.80 147.1 L195.84 147.2 L195.89 146.0 L195.94 146.4 L195.99 146.6 L196.00 147.1 L196.04 147.5 L196.09 148.7 L196.19 151.2 L196.20 151.3 L196.34 155.3 L196.40 158.0 L196.49 160.4 L196.60 164.5 L196.74 166.5 L196.80 164.8 L196.89 162.9 L196.95 162.2 L197.00 161.2 L197.04 160.6 L197.10 158.7 L197.14 156.9 L197.19 151.9 L197.20 148.8 L197.24 138.2 L197.25 134.9 L197.29 122.0 L197.30 119.0 L197.34 112.3 L197.35 112.3 L197.39 112.3 L197.40 112.0 L197.44 112.3 L197.45 112.3 L197.49 114.3 L197.50 117.4 L197.54 130.5 L197.55 133.1 L197.60 147.6 L197.64 156.0 L197.70 157.7 L197.79 159.1 L197.80 159.1 L197.85 159.7 L197.94 160.7 L198.00 161.4 L198.06 160.2 L198.20 157.4 L198.21 156.6 L198.36 154.2 L198.40 153.5 L198.46 152.1 L198.51 152.2 L198.56 151.5 L198.60 151.7 L198.61 151.5 L198.66 151.0 L198.71 151.2 L198.76 151.8 L198.80 152.2 L198.81 151.9 L198.86 153.5 L198.96 155.1 L199.00 156.0 L199.11 158.9 L199.20 160.8 L199.26 162.2 L199.40 165.8 L199.60 169.0 L199.80 168.0 L200.00 165.4 L200.10 163.8 L200.18 162.6 L200.20 162.1 L200.25 160.8 L200.33 157.2 L200.40 152.9 L200.48 130.6 L200.50 119.0 L200.51 112.9 L200.55 84.6 L200.58 60.2 L200.60 45.1 L200.63 24.9 L200.65 14.2 L200.66 12.3 L200.68 12.3 L200.70 12.0 L200.73 12.3 L200.75 13.3 L200.78 30.5 L200.80 45.0 L200.81 52.0 L200.83 67.2 L200.85 83.3 L200.88 104.4 L200.90 117.5 L200.91 123.8 L200.93 129.2 L200.96 131.0 L200.98 131.6 L201.00 131.7 L201.01 132.4 L201.06 132.8 L201.08 133.1 L201.11 133.0 L201.15 133.4 L201.16 133.2 L201.20 134.1 L201.21 134.7 L201.23 135.0 L201.26 134.9 L201.30 135.9 L201.31 136.4 L201.38 139.1 L201.40 139.6 L201.41 139.6 L201.56 146.4 L201.60 148.5 L201.71 153.9 L201.80 157.8 L202.00 166.2 L202.20 171.9 L202.40 175.0 L202.60 173.4 L202.80 168.3 L202.81 167.4 L202.96 161.0 L203.00 159.6 L203.11 154.3 L203.20 150.9 L203.21 150.8 L203.26 149.4 L203.31 147.9 L203.36 148.0 L203.40 147.7 L203.41 147.3 L203.46 147.5 L203.51 147.8 L203.56 149.5 L203.60 149.6 L203.61 150.1 L203.71 153.5 L203.80 157.7 L203.86 159.8 L204.00 165.0 L204.01 165.3 L204.20 170.6 L204.40 169.7 L204.50 169.1 L204.60 167.7 L204.65 166.7 L204.75 164.7 L204.80 163.5 L204.90 148.9 L204.95 139.2 L205.00 130.3 L205.05 129.3 L205.10 129.0 L205.15 129.3 L205.20 129.3 L205.25 137.8 L205.28 143.7 L205.30 146.9 L205.35 146.3 L205.40 145.8 L205.43 145.1 L205.50 142.9 L205.55 141.1 L205.58 140.5 L205.60 140.0 L205.65 138.3 L205.68 138.1 L205.70 138.0 L205.73 137.2 L205.78 136.6 L205.80 136.3 L205.83 136.3 L205.88 135.9 L205.93 136.8 L205.98 137.2 L206.00 138.0 L206.03 137.9 L206.08 139.5 L206.18 141.9 L206.20 143.0 L206.33 148.6 L206.40 151.1 L206.48 155.1 L206.60 159.8 L206.80 167.3 L207.00 173.1 L207.20 175.3 L207.40 177.2 L207.60 174.0 L207.80 169.8 L207.81 169.7 L207.96 164.7 L208.00 162.8 L208.11 159.1 L208.20 156.5 L208.21 156.3 L208.26 155.1 L208.31 154.1 L208.36 153.2 L208.40 153.5 L208.41 153.3 L208.46 153.5 L208.51 154.4 L208.56 154.4 L208.60 155.9 L208.61 155.7 L208.71 159.0 L208.80 162.2 L208.86 163.6 L209.00 168.5 L209.01 168.7 L209.20 173.1 L209.40 175.0 L209.60 176.0 L209.80 175.9 L210.00 174.1 L210.20 170.3 L210.40 163.9 L210.49 158.9 L210.60 151.9 L210.64 149.7 L210.79 139.6 L210.80 139.0 L210.89 134.4 L210.94 131.7 L210.99 130.4 L211.00 129.5 L211.04 129.0 L211.09 127.8 L211.14 128.2 L211.19 129.3 L211.20 129.5 L211.24 130.7 L211.29 132.1 L211.39 136.8 L211.40 137.5 L211.54 145.8 L211.60 148.7 L211.69 153.7 L211.80 158.7 L212.00 163.6 L212.20 165.8 L212.40 165.8 L212.60 164.9 L212.80 162.8 L213.00 160.8 L213.10 159.6 L213.20 158.4 L213.24 158.6 L213.25 158.4 L213.34 156.5 L213.39 155.5 L213.40 155.4 L213.49 138.3 L213.50 135.1 L213.54 117.0 L213.55 111.3 L213.60 86.0 L213.64 68.7 L213.65 66.3 L213.69 66.0 L213.70 66.0 L213.74 66.3 L213.75 66.3 L213.79 81.0 L213.80 86.2 L213.84 106.5 L213.85 111.7 L213.89 131.2 L213.90 134.7 L213.94 148.6 L213.99 153.2 L214.00 153.0 L214.04 154.8 L214.09 155.1 L214.14 155.9 L214.15 156.0 L214.20 157.2 L214.24 157.9 L214.25 157.8 L214.29 157.9 L214.30 158.3 L214.39 160.2 L214.40 159.9 L214.44 161.2 L214.54 161.3 L214.55 160.6 L214.60 160.3 L214.65 159.8 L214.70 159.7 L214.75 158.0 L214.80 151.9 L214.85 137.0 L214.90 121.9 L214.95 108.8 L215.00 108.0 L215.05 108.6 L215.10 121.4 L215.15 137.8 L215.20 152.9 L215.30 163.7 L215.40 165.7 L215.45 165.3 L215.59 160.1 L215.60 159.5 L215.74 153.5 L215.80 149.9 L215.89 145.7 L215.99 141.8 L216.00 141.5 L216.04 139.8 L216.09 138.6 L216.14 137.4 L216.19 137.2 L216.20 136.9 L216.24 136.9 L216.29 137.1 L216.34 137.9 L216.39 139.0 L216.40 139.0 L216.49 142.2 L216.60 146.9 L216.64 148.3 L216.79 154.4 L216.80 155.5 L217.00 161.6 L217.20 165.4 L217.40 167.1 L217.60 167.5 L217.80 165.0 L217.99 159.7 L218.00 159.4 L218.14 153.8 L218.20 150.9 L218.29 146.9 L218.39 143.3 L218.40 143.1 L218.44 142.0 L218.49 141.2 L218.54 140.7 L218.59 141.0 L218.60 141.2 L218.64 141.0 L218.69 141.8 L218.74 143.6 L218.79 145.2 L218.80 146.4 L218.89 150.5 L219.00 155.9 L219.04 157.9 L219.19 165.8 L219.20 166.2 L219.40 172.4 L219.60 174.4 L219.80 173.3 L219.90 172.1 L220.00 171.1 L220.02 171.1 L220.05 171.1 L220.17 169.4 L220.20 168.7 L220.30 156.2 L220.32 152.2 L220.35 147.4 L220.40 140.3 L220.42 137.3 L220.45 134.3 L220.47 134.3 L220.50 134.0 L220.52 134.3 L220.55 134.3 L220.57 135.2 L220.60 139.8 L220.62 141.6 L220.65 146.4 L220.67 149.9 L220.70 154.8 L220.72 157.2 L220.77 163.8 L220.79 165.5 L220.80 165.0 L220.82 165.1 L220.92 163.2 L220.94 162.7 L220.95 162.1 L221.00 161.3 L221.07 160.1 L221.09 159.5 L221.10 158.8 L221.19 157.4 L221.20 157.3 L221.22 156.8 L221.24 156.8 L221.25 156.7 L221.29 155.6 L221.34 155.2 L221.39 155.0 L221.40 154.4 L221.44 153.8 L221.49 153.7 L221.50 152.1 L221.54 146.2 L221.55 144.2 L221.59 137.4 L221.60 136.5 L221.64 133.3 L221.65 133.3 L221.69 133.0 L221.70 133.0 L221.74 133.3 L221.75 133.3 L221.79 135.8 L221.80 136.6 L221.84 143.0 L221.85 144.5 L221.89 151.4 L221.90 153.3 L221.94 159.8 L221.99 164.4 L222.00 164.5 L222.04 165.9 L222.14 166.6 L222.15 167.1 L222.20 167.6 L222.29 168.8 L222.30 168.0 L222.40 169.4 L222.44 169.6 L222.60 168.0 L222.77 164.9 L222.80 164.8 L222.90 162.7 L222.92 162.7 L223.00 161.9 L223.05 160.4 L223.06 160.3 L223.07 160.8 L223.17 158.8 L223.20 157.6 L223.21 157.4 L223.22 157.2 L223.27 155.6 L223.30 149.4 L223.32 143.5 L223.35 134.0 L223.36 130.3 L223.37 126.8 L223.40 116.4 L223.42 110.5 L223.45 103.8 L223.46 103.8 L223.47 103.8 L223.50 103.5 L223.51 103.5 L223.52 103.8 L223.55 103.8 L223.56 105.1 L223.57 107.0 L223.60 115.8 L223.61 118.9 L223.65 132.9 L223.66 136.5 L223.67 139.0 L223.70 148.1 L223.71 149.3 L223.76 151.4 L223.80 152.4 L223.81 152.3 L223.82 152.5 L223.86 153.9 L223.95 155.2 L223.96 156.3 L223.97 155.7 L224.00 156.5 L224.10 159.4 L224.11 160.0 L224.20 162.2 L224.26 163.9 L224.40 167.0 L224.60 170.1 L224.80 167.5 L224.90 166.8 L224.98 164.9 L225.00 164.6 L225.05 163.6 L225.13 162.1 L225.20 161.3 L225.28 155.4 L225.30 150.8 L225.35 137.3 L225.38 129.1 L225.40 123.0 L225.43 115.5 L225.45 113.6 L225.48 113.6 L225.50 113.3 L225.53 113.6 L225.55 113.6 L225.58 116.4 L225.60 122.1 L225.63 130.2 L225.65 136.0 L225.68 144.5 L225.70 149.2 L225.73 151.2 L225.78 151.1 L225.80 150.7 L225.85 149.6 L225.88 149.0 L225.95 147.1 L226.00 146.9 L226.03 146.1 L226.05 146.1 L226.10 145.5 L226.15 146.5 L226.18 146.4 L226.20 146.3 L226.25 147.2 L226.30 148.5 L226.35 149.0 L226.40 150.7 L226.45 152.6 L226.60 157.8 L226.75 163.6 L226.80 165.5 L227.00 170.0 L227.20 173.4 L227.40 174.1 L227.60 173.4 L227.80 171.5 L227.98 169.1 L228.00 169.0 L228.10 166.8 L228.13 166.5 L228.20 165.9 L228.25 164.3 L228.28 162.6 L228.38 159.7 L228.40 158.6 L228.43 157.3 L228.48 151.6 L228.50 148.2 L228.53 142.6 L228.55 138.5 L228.58 132.3 L228.60 129.0 L228.63 124.5 L228.65 124.3 L228.68 124.3 L228.70 124.0 L228.73 124.3 L228.75 124.3 L228.78 125.5 L228.80 128.3 L228.83 134.4 L228.85 137.7 L228.88 144.3 L228.90 147.9 L228.93 153.4 L229.00 157.3 L229.03 158.1 L229.15 162.8 L229.18 164.2 L229.20 165.0 L229.30 167.3 L229.33 168.2 L229.40 170.3 L229.60 173.3 L229.80 175.3 L230.00 175.4 L230.20 174.9 L230.40 172.4 L230.60 167.7 L230.80 160.7 L230.82 159.9 L230.97 153.9 L231.00 152.5 L231.12 148.4 L231.20 145.4 L231.22 144.2 L231.27 143.6 L231.32 142.1 L231.37 141.8 L231.40 141.8 L231.42 141.8 L231.47 142.0 L231.52 141.9 L231.57 142.5 L231.60 143.2 L231.62 143.5 L231.72 146.8 L231.74 147.1 L231.75 147.7 L231.80 148.8 L231.87 151.6 L231.89 152.3 L231.90 151.8 L232.00 149.7 L232.02 145.9 L232.04 142.2 L232.05 140.8 L232.10 132.2 L232.14 128.8 L232.15 128.8 L232.19 128.5 L232.20 128.5 L232.24 128.8 L232.25 128.8 L232.29 131.1 L232.30 133.0 L232.34 140.1 L232.35 141.8 L232.39 148.9 L232.40 150.9 L232.44 156.8 L232.49 162.0 L232.50 162.7 L232.54 162.7 L232.60 163.6 L232.64 163.7 L232.65 163.9 L232.79 164.7 L232.80 165.3 L232.94 165.8 L233.00 166.6 L233.20 168.1 L233.40 165.0 L233.60 159.3 L233.76 154.5 L233.80 153.1 L233.91 149.5 L234.00 146.3 L234.06 144.6 L234.16 142.6 L234.20 141.7 L234.21 141.9 L234.26 140.6 L234.31 140.8 L234.36 140.7 L234.40 140.7 L234.41 140.3 L234.46 141.3 L234.51 141.8 L234.56 143.2 L234.60 144.0 L234.66 145.7 L234.80 150.0 L234.81 150.5 L234.96 156.6 L235.00 158.1 L235.20 165.1 L235.40 169.7 L235.60 168.6 L235.80 163.6 L236.00 156.4 L236.01 156.2 L236.16 149.8 L236.20 148.7 L236.31 144.4 L236.40 141.7 L236.41 141.5 L236.46 140.3 L236.51 140.2 L236.56 138.7 L236.60 138.9 L236.61 138.6 L236.66 139.3 L236.71 139.2 L236.76 139.9 L236.80 141.0 L236.81 141.4 L236.91 144.2 L237.00 147.0 L237.06 149.2 L237.20 154.9 L237.21 155.8 L237.40 162.2 L237.60 167.5 L237.80 171.7 L238.00 171.6 L238.20 168.6 L238.40 164.9 L238.49 163.7 L238.60 161.0 L238.64 159.4 L238.75 157.6 L238.79 156.2 L238.80 156.2 L238.89 154.1 L238.90 153.3 L238.94 152.7 L238.99 146.1 L239.00 143.0 L239.01 140.6 L239.04 129.7 L239.05 126.0 L239.09 111.5 L239.10 107.7 L239.14 96.3 L239.15 96.3 L239.16 96.3 L239.19 96.0 L239.20 96.0 L239.24 96.3 L239.25 96.3 L239.29 103.3 L239.30 105.9 L239.31 109.8 L239.35 123.8 L239.39 137.9 L239.40 140.9 L239.41 143.3 L239.46 144.5 L239.50 145.0 L239.51 145.2 L239.54 145.1 L239.56 144.3 L239.60 144.8 L239.61 144.4 L239.65 144.9 L239.66 145.4 L239.69 145.5 L239.71 145.1 L239.76 146.1 L239.80 146.6 L239.81 146.6 L239.91 149.6 L240.00 152.2 L240.06 153.5 L240.20 157.7 L240.21 158.3 L240.40 162.6 L240.60 165.0 L240.80 165.9 L241.00 166.4 L241.20 166.4 L241.40 166.6 L241.60 165.2 L241.80 163.5 L242.00 160.7 L242.02 160.5 L242.17 158.2 L242.20 158.7 L242.32 157.0 L242.40 155.8 L242.42 156.3 L242.47 155.9 L242.52 155.8 L242.57 155.9 L242.60 155.8 L242.62 156.1 L242.67 156.4 L242.72 156.2 L242.77 156.8 L242.80 156.9 L242.82 157.1 L242.92 158.5 L243.00 160.1 L243.07 161.0 L243.20 163.5 L243.22 164.4 L243.40 167.7 L243.60 170.6 L243.80 172.8 L244.00 173.6 L244.20 174.6 L244.40 174.4 L244.60 173.9 L244.80 172.4 L245.00 170.6 L245.15 168.2 L245.20 166.7 L245.30 165.0 L245.40 163.2 L245.45 162.6 L245.50 162.6 L245.55 162.5 L245.60 161.4 L245.65 161.5 L245.68 162.1 L245.70 161.6 L245.75 162.5 L245.80 162.3 L245.83 162.6 L245.90 163.1 L245.95 163.1 L245.98 162.8 L246.00 162.4 L246.05 162.0 L246.08 160.7 L246.10 160.9 L246.13 159.0 L246.18 151.0 L246.20 147.3 L246.23 141.6 L246.25 137.7 L246.28 132.7 L246.30 129.0 L246.33 124.3 L246.35 124.3 L246.38 124.3 L246.40 124.0 L246.43 124.3 L246.45 124.3 L246.48 125.5 L246.50 129.1 L246.55 137.5 L246.58 143.7 L246.60 147.4 L246.70 161.4 L246.73 162.2 L246.80 164.1 L246.85 163.9 L246.88 164.7 L247.00 165.1 L247.20 165.9 L247.40 165.0 L247.60 162.0 L247.69 161.4 L247.75 160.0 L247.80 159.3 L247.84 158.6 L247.90 156.8 L247.95 151.5 L247.99 146.0 L248.00 144.8 L248.05 137.0 L248.09 135.3 L248.10 135.3 L248.14 135.3 L248.15 135.3 L248.19 135.0 L248.20 135.0 L248.24 135.3 L248.25 135.3 L248.29 135.3 L248.30 135.3 L248.34 135.3 L248.35 135.3 L248.39 141.3 L248.40 143.6 L248.44 148.2 L248.45 149.6 L248.49 151.5 L248.50 151.8 L248.55 152.5 L248.59 153.7 L248.60 153.5 L248.65 154.9 L248.70 155.8 L248.74 155.8 L248.80 157.6 L248.85 158.1 L248.89 159.7 L249.00 160.7 L249.20 163.7 L249.40 166.5 L249.60 168.0 L249.80 169.5 L250.00 170.0 L250.20 170.4 L250.40 169.8 L250.60 169.1 L250.71 168.2 L250.80 167.9 L250.86 166.9 L251.00 166.0 L251.01 166.0 L251.11 165.8 L251.16 165.6 L251.20 164.9 L251.21 165.9 L251.26 165.7 L251.31 165.2 L251.36 165.0 L251.40 165.8 L251.41 166.0 L251.46 165.4 L251.51 166.2 L251.60 166.8 L251.61 167.0 L251.76 167.5 L251.80 167.8 L251.91 168.9 L252.00 169.7 L252.20 171.8 L252.40 171.9 L252.60 170.4 L252.70 169.3 L252.72 169.4 L252.80 168.5 L252.85 168.4 L252.87 168.3 L253.00 162.0 L253.02 160.3 L253.10 154.5 L253.12 153.0 L253.15 150.9 L253.17 149.7 L253.20 148.2 L253.22 147.3 L253.25 147.3 L253.27 147.3 L253.30 147.0 L253.32 147.3 L253.35 147.3 L253.37 147.3 L253.40 147.4 L253.42 148.5 L253.45 150.7 L253.47 152.5 L253.50 154.6 L253.52 155.2 L253.55 157.7 L253.60 161.2 L253.62 162.4 L253.65 164.0 L253.75 167.5 L253.77 168.0 L253.80 167.8 L253.90 168.5 L253.92 168.6 L254.00 169.1 L254.05 170.1 L254.20 170.5 L254.40 171.8 L254.60 172.0 L254.80 170.6 L254.87 170.3 L255.00 169.8 L255.02 170.1 L255.17 169.4 L255.20 168.8 L255.27 168.7 L255.32 168.4 L255.37 168.4 L255.40 168.7 L255.42 168.1 L255.47 168.7 L255.52 168.8 L255.57 168.5 L255.60 168.9 L255.62 168.9 L255.67 168.3 L255.77 169.4 L255.80 168.7 L255.92 169.9 L256.00 169.6 L256.07 170.1 L256.20 170.8 L256.40 171.8 L256.60 172.0 L256.80 171.7 L257.00 172.4 L257.20 172.0 L257.40 171.6 L257.60 171.7 L257.80 171.9 L258.00 171.0 L258.20 171.9 L258.40 171.1 L258.60 170.8 L258.80 171.4 L259.00 171.3 L259.20 170.5 L259.40 170.8 L259.60 170.8 L259.80 170.3 L260.00 170.5 L260.20 170.1 L260.40 170.1 L260.60 170.6 L260.80 170.8 L261.00 170.2 L261.20 170.9 L261.40 170.6 L261.60 170.8 L261.80 171.3 L262.00 171.1 L262.20 170.7 L262.40 170.9 L262.60 171.2 L262.80 170.2 L263.00 170.9 L263.20 171.3 L263.40 170.7 L263.60 171.4 L263.80 170.9 L264.00 171.1 L264.20 171.1 L264.40 171.3 L264.60 170.4 L264.80 171.3 L265.00 170.4 L265.20 171.1 L265.40 170.1 L265.60 170.8 L265.80 170.7 L266.00 170.2 L266.20 171.4 L266.40 170.7 L266.60 171.0 L266.80 170.5 L267.00 170.7 L267.20 170.9 L267.40 171.4 L267.60 171.2 L267.80 170.4 L268.00 170.9 L268.20 170.5 L268.40 170.5 L268.60 170.2 L268.80 171.1 L269.00 170.1 L269.20 170.4 L269.40 171.3 L269.60 170.2 L269.80 171.4 L270.00 170.7 L270.20 171.1 L270.40 170.4 L270.60 171.0 L270.80 170.9 L271.00 171.4 L271.20 170.3 L271.40 171.3 L271.60 171.2 L271.80 171.2 L272.00 170.1 L272.20 171.2 L272.40 170.1 L272.60 171.0 L272.80 171.3 L273.00 170.6 L273.20 170.9 L273.40 170.4 L273.60 169.9 L273.80 170.7 L274.00 170.0 L274.20 169.5 L274.40 169.0 L274.60 167.4 L274.80 166.8 L274.81 166.7 L274.90 166.9 L274.96 166.5 L275.00 166.5 L275.05 166.0 L275.11 164.8 L275.20 159.9 L275.21 159.2 L275.26 157.3 L275.30 154.2 L275.31 154.0 L275.35 151.6 L275.36 149.6 L275.40 148.5 L275.41 148.0 L275.45 147.0 L275.46 147.0 L275.50 146.7 L275.51 146.7 L275.55 147.0 L275.56 147.0 L275.60 148.0 L275.61 149.4 L275.65 150.6 L275.70 153.5 L275.71 154.6 L275.80 160.7 L275.86 164.2 L275.95 167.1 L276.00 166.8 L276.01 166.2 L276.10 168.0 L276.20 168.0 L276.40 168.5 L276.60 168.9 L276.80 169.7 L277.00 170.7 L277.20 170.6 L277.40 170.9 L277.60 170.1 L277.80 171.1 L278.00 171.1 L278.20 170.8 L278.40 170.8 L278.60 171.3 L278.80 170.3 L279.00 170.5 L279.20 170.9 L279.40 170.3 L279.60 170.8 L279.80 170.9 L280.00 171.3 L280.20 171.2 L280.40 171.1 L280.60 170.8 L280.80 170.0 L281.00 170.0 L281.20 170.4 L281.40 170.5 L281.60 170.2 L281.80 168.9 L282.00 167.3 L282.20 166.1 L282.29 166.7 L282.40 164.9 L282.44 165.4 L282.55 164.5 L282.59 163.6 L282.60 163.3 L282.69 158.9 L282.70 158.0 L282.74 154.0 L282.79 150.9 L282.80 150.0 L282.84 145.5 L282.85 144.7 L282.89 142.8 L282.90 141.7 L282.94 140.3 L282.95 140.3 L282.99 140.0 L283.00 140.0 L283.04 140.3 L283.05 140.3 L283.09 141.6 L283.10 141.4 L283.15 145.0 L283.19 149.1 L283.20 149.1 L283.30 158.4 L283.34 161.1 L283.40 163.4 L283.45 165.9 L283.49 165.5 L283.60 167.3 L283.80 167.4 L284.00 168.6 L284.20 169.8 L284.40 169.6 L284.60 169.8 L284.80 171.0 L285.00 171.0 L285.20 170.5 L285.40 169.9 L285.60 170.7 L285.80 171.2 L286.00 170.2 L286.20 170.6 L286.40 170.7 L286.60 170.9 L286.80 170.0 L287.00 171.2 L287.20 171.1 L287.40 171.3 L287.60 170.9 L287.80 170.2 L288.00 170.1" fill="none" stroke="#2c2c2c" stroke-width="0.78" stroke-linejoin="round"/>
<path d="M288.00 170.6 L288.60 150.0 L289.00 138.0 L289.50 150.0 L290.40 168.0 L291.50 175.8 L292.30 166.0 L293.40 138.0 L294.70 110.0 L295.80 90.0 L297.20 73.0 L298.60 67.6 L300.00 67.2 L301.50 66.0 L303.00 67.4 L304.50 66.2 L306.00 67.2 L307.50 66.4 L308.30 66.8 L308.50 120.0 L308.50 244.6" fill="none" stroke="#6a6a6a" stroke-width="0.9" stroke-linejoin="round"/>
<path d="M45.5 235.3 L60 235.3 L63.2 216 L214.8 177 L289 147.8 Q296 89 296.2 61.7 L311.1 61.7 L312.6 235.3 L325.5 235.3" fill="none" stroke="#0c0c0c" stroke-width="1.5" stroke-dasharray="4.2 2.2"/>
<circle cx="45.5" cy="235.3" r="2.7" fill="#636363" stroke="#3e3e3e" stroke-width="0.7"/>
<circle cx="60" cy="235.3" r="2.7" fill="#636363" stroke="#3e3e3e" stroke-width="0.7"/>
<circle cx="63.2" cy="216" r="2.7" fill="#636363" stroke="#3e3e3e" stroke-width="0.7"/>
<circle cx="214.8" cy="177" r="2.7" fill="#636363" stroke="#3e3e3e" stroke-width="0.7"/>
<circle cx="289" cy="147.8" r="2.7" fill="#636363" stroke="#3e3e3e" stroke-width="0.7"/>
<circle cx="296.2" cy="61.7" r="2.7" fill="#636363" stroke="#3e3e3e" stroke-width="0.7"/>
<circle cx="311.1" cy="61.7" r="2.7" fill="#636363" stroke="#3e3e3e" stroke-width="0.7"/>
<circle cx="312.6" cy="235.3" r="2.7" fill="#636363" stroke="#3e3e3e" stroke-width="0.7"/>
<circle cx="325.5" cy="235.3" r="2.7" fill="#636363" stroke="#3e3e3e" stroke-width="0.7"/>
<text transform="translate(51.20,197.00) scale(0.9849,1)" x="-0.97" y="0" font-size="13" fill="#161616" stroke="#161616" stroke-width="0.22">15%</text>
<text transform="translate(68.00,237.30) scale(1.0275,1)" x="-0.52" y="0" font-size="13" fill="#161616" stroke="#161616" stroke-width="0.22">5%</text>
<text transform="translate(207.30,198.50) scale(1.0390,1)" x="-0.52" y="0" font-size="13" fill="#161616" stroke="#161616" stroke-width="0.22">35%</text>
<text transform="translate(258.50,134.50) scale(1.0190,1)" x="-0.52" y="0" font-size="13" fill="#161616" stroke="#161616" stroke-width="0.22">50%</text>
<text transform="translate(294.80,42.00) scale(1.0216,1)" x="-0.58" y="0" font-size="13" fill="#161616" stroke="#161616" stroke-width="0.22">95%</text>
<text transform="translate(317.50,216.60) scale(1.0275,1)" x="-0.52" y="0" font-size="13" fill="#161616" stroke="#161616" stroke-width="0.22">5%</text>
<path d="M464.6 20.6 V245.5 H694.2" fill="none" stroke="#0c0c0c" stroke-width="1.5"/>
<path d="M461.9 21.20 H464.6" stroke="#0c0c0c" stroke-width="1.2"/>
<text transform="translate(442.70,27.50) scale(1.0381,1)" x="-0.52" y="0" font-size="13" fill="#161616" stroke="#161616" stroke-width="0.22">35</text>
<path d="M461.9 53.17 H464.6" stroke="#0c0c0c" stroke-width="1.2"/>
<text transform="translate(442.70,59.20) scale(1.0381,1)" x="-0.52" y="0" font-size="13" fill="#161616" stroke="#161616" stroke-width="0.22">30</text>
<path d="M461.9 85.14 H464.6" stroke="#0c0c0c" stroke-width="1.2"/>
<text transform="translate(442.70,90.30) scale(1.0483,1)" x="-0.65" y="0" font-size="13" fill="#161616" stroke="#161616" stroke-width="0.22">25</text>
<path d="M461.9 117.11 H464.6" stroke="#0c0c0c" stroke-width="1.2"/>
<text transform="translate(442.70,122.00) scale(1.0483,1)" x="-0.65" y="0" font-size="13" fill="#161616" stroke="#161616" stroke-width="0.22">20</text>
<path d="M461.9 149.09 H464.6" stroke="#0c0c0c" stroke-width="1.2"/>
<text transform="translate(442.70,153.20) scale(1.0746,1)" x="-0.97" y="0" font-size="13" fill="#161616" stroke="#161616" stroke-width="0.22">15</text>
<path d="M461.9 181.06 H464.6" stroke="#0c0c0c" stroke-width="1.2"/>
<text transform="translate(442.70,187.20) scale(1.0746,1)" x="-0.97" y="0" font-size="13" fill="#161616" stroke="#161616" stroke-width="0.22">10</text>
<path d="M461.9 213.03 H464.6" stroke="#0c0c0c" stroke-width="1.2"/>
<text transform="translate(448.90,218.30) scale(1.0526,1)" x="-0.52" y="0" font-size="13" fill="#161616" stroke="#161616" stroke-width="0.22">5</text>
<path d="M461.9 245.00 H464.6" stroke="#0c0c0c" stroke-width="1.2"/>
<text transform="translate(448.90,247.60) scale(1.0526,1)" x="-0.52" y="0" font-size="13" fill="#161616" stroke="#161616" stroke-width="0.22">0</text>
<path d="M465.80 245 V249.3" stroke="#0c0c0c" stroke-width="1.2"/>
<text transform="translate(462.62,266.00) scale(1.0300,1)" x="-0.52" y="0" font-size="13" fill="#161616" stroke="#161616" stroke-width="0.22">0</text>
<path d="M522.75 245 V249.3" stroke="#0c0c0c" stroke-width="1.2"/>
<text transform="translate(515.85,266.00) scale(1.0300,1)" x="-0.52" y="0" font-size="13" fill="#161616" stroke="#161616" stroke-width="0.22">50</text>
<path d="M579.70 245 V249.3" stroke="#0c0c0c" stroke-width="1.2"/>
<text transform="translate(569.67,266.00) scale(1.0300,1)" x="-0.97" y="0" font-size="13" fill="#161616" stroke="#161616" stroke-width="0.22">100</text>
<path d="M636.65 245 V249.3" stroke="#0c0c0c" stroke-width="1.2"/>
<text transform="translate(626.62,266.00) scale(1.0300,1)" x="-0.97" y="0" font-size="13" fill="#161616" stroke="#161616" stroke-width="0.22">150</text>
<path d="M693.60 245 V249.3" stroke="#0c0c0c" stroke-width="1.2"/>
<text transform="translate(683.06,266.00) scale(1.0300,1)" x="-0.65" y="0" font-size="13" fill="#161616" stroke="#161616" stroke-width="0.22">200</text>
<text transform="translate(553.30,286.30) scale(1.0151,1)" x="-1.16" y="0" font-size="14.5" fill="#161616" stroke="#161616" stroke-width="0.22">Fractions</text>
<text transform="translate(412.90,224.70) rotate(-90) scale(0.9953,1)" x="-1.18" y="0" font-size="14.8" fill="#161616" stroke="#161616" stroke-width="0.22">Number of proteins/peptides</text>
<text transform="translate(430.80,162.50) rotate(-90) scale(1.0376,1)" x="-0.87" y="0" font-size="14.5" fill="#161616" stroke="#161616" stroke-width="0.22">(x1000)</text>
<path d="M479.6 217.3 C481.88 213.72 486.62 205.58 493.3 195.8 C499.98 186.02 506.37 173.18 519.7 158.6 C533.03 144.02 546.62 124.40 573.3 108.3 C599.98 92.20 662.05 69.72 679.8 62.0" fill="none" stroke="#0c0c0c" stroke-width="1.3"/>
<circle cx="479.6" cy="217.3" r="3.2" fill="#050505"/>
<circle cx="493.3" cy="195.8" r="3.2" fill="#050505"/>
<circle cx="519.7" cy="158.6" r="3.2" fill="#050505"/>
<circle cx="573.3" cy="108.3" r="3.2" fill="#050505"/>
<circle cx="679.8" cy="62.0" r="3.2" fill="#050505"/>
<path d="M479.7 237.0 C481.98 236.48 486.72 235.27 493.4 233.9 C500.08 232.53 506.48 230.52 519.8 228.8 C533.12 227.08 546.63 225.35 573.3 223.6 C599.97 221.85 662.05 219.18 679.8 218.3" fill="none" stroke="#0c0c0c" stroke-width="1.3"/>
<circle cx="479.7" cy="237.0" r="3.2" fill="#050505"/>
<circle cx="493.4" cy="233.9" r="3.2" fill="#050505"/>
<circle cx="519.8" cy="228.8" r="3.2" fill="#050505"/>
<circle cx="573.3" cy="223.6" r="3.2" fill="#050505"/>
<circle cx="679.8" cy="218.3" r="3.2" fill="#050505"/>
<text transform="translate(466.50,203.40) scale(0.9939,1)" x="-0.34" y="0" font-size="8.6" fill="#1e1e1e" stroke="#1e1e1e" stroke-width="0.12">5,077</text>
<text transform="translate(470.80,183.00) scale(1.0208,1)" x="-0.39" y="0" font-size="8.6" fill="#1e1e1e" stroke="#1e1e1e" stroke-width="0.12">8,750</text>
<text transform="translate(492.00,146.20) scale(1.0182,1)" x="-0.64" y="0" font-size="8.6" fill="#1e1e1e" stroke="#1e1e1e" stroke-width="0.12">15,262</text>
<text transform="translate(560.00,98.20) scale(1.0118,1)" x="-0.43" y="0" font-size="8.6" fill="#1e1e1e" stroke="#1e1e1e" stroke-width="0.12">24,083</text>
<text transform="translate(666.90,52.40) scale(1.0184,1)" x="-0.34" y="0" font-size="8.6" fill="#1e1e1e" stroke="#1e1e1e" stroke-width="0.12">32,070</text>
<text transform="translate(467.60,229.80) scale(1.0141,1)" x="-0.64" y="0" font-size="8.6" fill="#1e1e1e" stroke="#1e1e1e" stroke-width="0.12">1,565</text>
<text transform="translate(492.20,220.90) scale(0.9981,1)" x="-0.43" y="0" font-size="8.6" fill="#1e1e1e" stroke="#1e1e1e" stroke-width="0.12">2,121</text>
<text transform="translate(517.20,217.80) scale(1.0395,1)" x="-0.43" y="0" font-size="8.6" fill="#1e1e1e" stroke="#1e1e1e" stroke-width="0.12">2,959</text>
<text transform="translate(562.00,214.00) scale(1.0571,1)" x="-0.34" y="0" font-size="8.6" fill="#1e1e1e" stroke="#1e1e1e" stroke-width="0.12">3,890</text>
<text transform="translate(668.80,207.80) scale(1.0320,1)" x="-0.21" y="0" font-size="8.6" fill="#1e1e1e" stroke="#1e1e1e" stroke-width="0.12">4,844</text>
<text transform="translate(688.00,66.80) scale(1.0172,1)" x="-0.99" y="0" font-size="13.2" fill="#161616" stroke="#161616" stroke-width="0.22">Unique peptides</text>
<text transform="translate(687.50,223.00) scale(1.0163,1)" x="-0.99" y="0" font-size="13.2" fill="#161616" stroke="#161616" stroke-width="0.22">Unique proteins</text>
</svg>
</body></html>
